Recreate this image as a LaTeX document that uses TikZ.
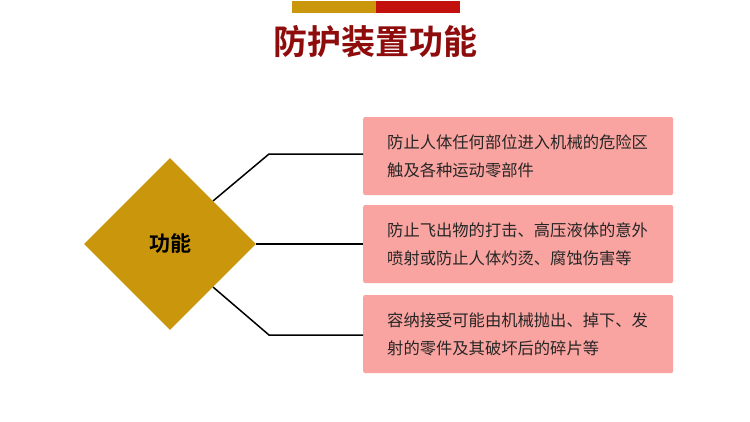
\documentclass[tikz,border=0pt]{standalone}
\usepackage{fontspec}
\usepackage{tikz}
\usetikzlibrary{shapes.geometric,positioning}
\newfontfamily\cjk{Noto Sans CJK SC}
\newfontfamily\cjkbold{Noto Sans CJK SC Bold}
\definecolor{goldbar}{HTML}{C9960C}
\definecolor{redbar}{HTML}{C3120E}
\definecolor{titlered}{HTML}{8E0C0C}
\definecolor{boxpink}{HTML}{F9A4A0}
\tikzset{
    funcbox/.style={fill=boxpink, rounded corners=2pt, anchor=west, minimum width=310pt,
        minimum height=78pt, text width=262pt, inner xsep=24pt, align=left,
        font=\cjk\fontsize{16.3}{28}\selectfont, text=black!85},
    link/.style={draw=black, line width=1.5pt}
}
\begin{document}
\begin{tikzpicture}[x=1pt,y=-1pt]
            \useasboundingbox (0,0) rectangle (750,421);
            % title
            \fill[goldbar] (292,1) rectangle (376,13);
            \fill[redbar] (376,1) rectangle (460,13);
            \node[font=\cjkbold\fontsize{34}{34}\selectfont, text=titlered] (title) at (375,42) {防护装置功能};
            % diamond
            \node[diamond, fill=goldbar, minimum width=172pt, minimum height=172pt, inner sep=0pt,
                font=\cjkbold\fontsize{21}{21}\selectfont] (d) at (170,244) {功能};
            \node[funcbox] (b1) at (363,156) {防止人体任何部位进入机械的危险区\\触及各种运动零部件};
            \node[funcbox] (b2) at (363,244) {防止飞出物的打击、高压液体的意外\\喷射或防止人体灼烫、腐蚀伤害等};
            \node[funcbox] (b3) at (363,334) {容纳接受可能由机械抛出、掉下、发\\射的零件及其破坏后的碎片等};
            \coordinate (k1) at (269,154);
            \coordinate (k3) at (269,335);
            \begin{scope}[every path/.style={link}]
                \draw (d.north east) -- (k1) -- (k1 -| b1.west);
                \draw (d.east) -- (b2.west);
                \draw (d.south east) -- (k3) -- (k3 -| b3.west);
            \end{scope}
        \end{tikzpicture}
\end{document}
